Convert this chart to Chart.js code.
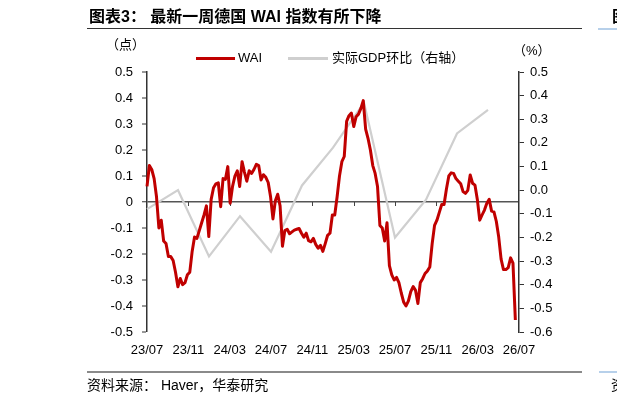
<!DOCTYPE html>
<html>
<head>
<meta charset="utf-8">
<script src="https://cdn.jsdelivr.net/npm/chart.js@4.4.1/dist/chart.umd.min.js"></script>
<style>
html,body{margin:0;padding:0;background:#fff;}
body{width:617px;height:406px;position:relative;overflow:hidden;font-family:"Liberation Sans","Noto Sans CJK SC",sans-serif;color:#000;}
.abs{position:absolute;white-space:nowrap;}
#chart{position:absolute;left:0;top:0;}
#title{left:89px;top:6px;font-size:16px;font-weight:bold;line-height:21px;}
#titleLine{left:87px;top:28px;width:495px;height:1px;background:#333;}
#titleFrag{left:612px;top:6px;font-size:16px;font-weight:bold;line-height:21px;}
#titleFragLine{left:598px;top:28px;width:19px;height:2px;background:#b7d0ea;}
#footLine{left:87px;top:371px;width:495px;height:2px;background:#8a8a8a;}
#footFragLine{left:599px;top:371px;width:18px;height:2px;background:#b7d0ea;}
#foot{left:87px;top:377px;font-size:14px;line-height:17px;}
#footFrag{left:611px;top:377px;font-size:14px;line-height:17px;}
#unitL{left:106px;top:37px;font-size:13px;line-height:16px;}
#unitR{left:513px;top:43px;font-size:13px;line-height:16px;}
.lg-line{position:absolute;height:3px;}
.lg-text{position:absolute;font-size:13px;line-height:16px;white-space:nowrap;}
</style>
</head>
<body>
<canvas id="chart" width="617" height="406"></canvas>
<div class="abs" id="title">图表3： 最新一周德国 WAI 指数有所下降</div>
<div class="abs" id="titleLine"></div>
<div class="abs" id="titleFrag">图</div>
<div class="abs" id="titleFragLine"></div>
<div class="abs" id="unitL">（点）</div>
<div class="abs" id="unitR">（%）</div>
<div class="lg-line" style="left:196px;top:57px;width:39px;background:#C00000;"></div>
<div class="lg-text" style="left:238px;top:50px;">WAI</div>
<div class="lg-line" style="left:288px;top:57px;width:40px;background:#CFCFCF;"></div>
<div class="lg-text" style="left:332px;top:50px;">实际GDP环比（右轴）</div>
<div class="abs" id="footLine"></div>
<div class="abs" id="footFragLine"></div>
<div class="abs" id="foot">资料来源： Haver，华泰研究</div>
<div class="abs" id="footFrag">资</div>
<script>
// ---- data ----
const xTickLabels = ['23/07','23/11','24/03','24/07','24/11','25/03','25/07','25/11','26/03','26/07'];
// weekly WAI readings, first week starting 2023-07-01
const waiStart = '2023-07-01';
const waiValues = [
  0.06, 0.14, 0.125, 0.09, 0.02, -0.10, -0.07, -0.15, -0.16, -0.21,
  -0.21, -0.225, -0.27, -0.326, -0.294, -0.318, -0.31, -0.28, -0.27, -0.19,
  -0.135, -0.14, -0.11, -0.08, -0.05, -0.015, -0.133, 0.01, 0.055, 0.07,
  0.074, -0.018, 0.09, 0.087, 0.136, -0.005, 0.06, 0.10, 0.12, 0.06,
  0.155, 0.115, 0.08, 0.12, 0.11, 0.125, 0.145, 0.14, 0.085, 0.105,
  0.095, 0.075, 0.02, -0.065, 0.005, 0.03, -0.015, -0.17, -0.11, -0.105,
  -0.122, -0.115, -0.108, -0.105, -0.102, -0.12, -0.135, -0.12, -0.149, -0.153,
  -0.14, -0.163, -0.178, -0.167, -0.19, -0.16, -0.128, -0.12, -0.05, -0.05,
  0.02, 0.10, 0.155, 0.175, 0.31, 0.332, 0.342, 0.29, 0.328, 0.338,
  0.36, 0.39, 0.28, 0.245, 0.2, 0.14, 0.11, 0.06, -0.09, -0.10,
  -0.15, -0.08, -0.245, -0.28, -0.30, -0.29, -0.31, -0.35, -0.385, -0.40,
  -0.38, -0.345, -0.325, -0.34, -0.39, -0.31, -0.295, -0.275, -0.265, -0.25,
  -0.16, -0.09, -0.07, -0.04, -0.01, -0.01, 0.05, 0.10, 0.112, 0.11,
  0.09, 0.08, 0.07, 0.04, 0.033, 0.045, 0.104, 0.072, 0.065, 0.01,
  -0.07, -0.05, -0.031, -0.005, 0.01, -0.035, -0.038, -0.075, -0.135, -0.22,
  -0.26, -0.26, -0.252, -0.215, -0.235, -0.454
];
// quarterly real GDP q/q (%), quarters starting 2023-07
const gdpQuarters = ['2023Q3','2023Q4','2024Q1','2024Q2','2024Q3','2024Q4','2025Q1','2025Q2','2025Q3','2025Q4','2026Q1','2026Q2'];
const gdpValues = [-0.08, 0.0, -0.28, -0.11, -0.26, 0.02, 0.18, 0.37, -0.20, -0.04, 0.24, 0.34];

// ---- build points (x = months since 2023-07) ----
const DAYS_PER_MONTH = 30.4375;
const waiPoints = waiValues.map((v, i) => ({ x: (i * 7) / DAYS_PER_MONTH, y: v }));
const gdpPoints = gdpValues.map((v, i) => ({ x: i * 3, y: v }));

const tickFont = { family: 'Liberation Sans', size: 13 };

const zeroTicks = {
  id: 'zeroTicks',
  beforeDatasetsDraw(chart) {
    const { ctx, scales } = chart;
    const x = scales.x, y = scales.y;
    const y0 = Math.round(y.getPixelForValue(0));
    ctx.save();
    ctx.strokeStyle = '#444';
    ctx.lineWidth = 1;
    x.ticks.forEach(t => {
      if (t.value <= 0 || t.value >= 36) return;
      const px = Math.round(x.getPixelForValue(t.value)) + 0.5;
      ctx.beginPath();
      ctx.moveTo(px, y0);
      ctx.lineTo(px, y0 + 4);
      ctx.stroke();
    });
    ctx.restore();
  }
};

new Chart(document.getElementById('chart'), {
  type: 'line',
  data: {
    datasets: [
      { label: 'WAI', data: waiPoints, yAxisID: 'y', borderColor: '#C00000', borderWidth: 3,
        pointRadius: 0, tension: 0, borderJoinStyle: 'round', clip: 4 },
      { label: '实际GDP环比（右轴）', data: gdpPoints, yAxisID: 'y1', borderColor: '#CFCFCF', borderWidth: 2.2,
        pointRadius: 0, tension: 0, clip: 4 }
    ]
  },
  options: {
    responsive: false,
    animation: false,
    layout: { padding: { top: 72, left: 0, right: 0, bottom: 0 } },
    plugins: { legend: { display: false }, tooltip: { enabled: false } },
    scales: {
      x: {
        type: 'linear', min: 0, max: 36,
        grid: { display: false, drawTicks: false, tickLength: 0 },
        border: { display: false },
        ticks: { stepSize: 4, padding: 11, color: '#000', font: tickFont, maxRotation: 0, autoSkip: false,
          callback: v => xTickLabels[Math.round(v / 4)] || '' },
        afterFit(s) { s.height = 74; }
      },
      y: {
        position: 'left', min: -0.5, max: 0.5,
        grid: {
          drawOnChartArea: true, drawTicks: true, tickLength: 5, tickColor: '#333', tickWidth: 1,
          color: c => (c.tick && Math.abs(c.tick.value) < 1e-9) ? '#555' : 'rgba(0,0,0,0)',
          lineWidth: c => (c.tick && Math.abs(c.tick.value) < 1e-9) ? 1.5 : 0
        },
        border: { display: true, color: '#333', width: 1.5 },
        ticks: { stepSize: 0.1, padding: 9, color: '#000', font: tickFont,
          callback: v => Math.abs(v) < 1e-9 ? '0' : v.toFixed(1) },
        afterFit(s) { s.width = 147; }
      },
      y1: {
        position: 'right', min: -0.6, max: 0.5,
        grid: { drawOnChartArea: false, drawTicks: true, tickLength: 5, color: '#333', tickColor: '#333', tickWidth: 1 },
        border: { display: true, color: '#333', width: 1.5 },
        ticks: { stepSize: 0.1, padding: 6, color: '#000', font: tickFont,
          callback: v => Math.abs(v) < 1e-9 ? '0.0' : v.toFixed(1) },
        afterFit(s) { s.width = 98; }
      }
    }
  },
  plugins: [zeroTicks]
});
</script>
</body>
</html>
